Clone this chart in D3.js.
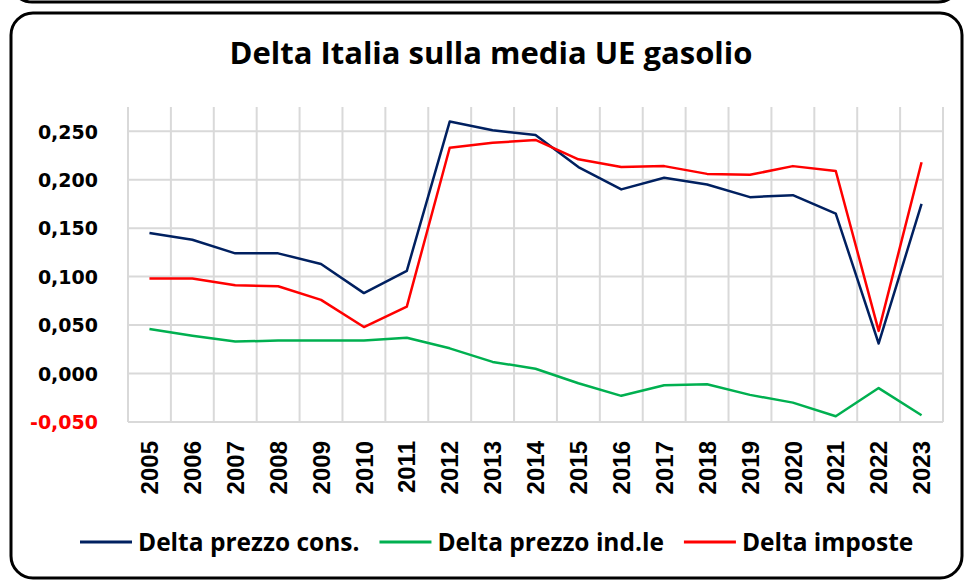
<!DOCTYPE html>
<html>
<head>
<meta charset="utf-8">
<script src="https://cdn.jsdelivr.net/npm/d3@7"></script>
<style>
  body { margin: 0; background: #fff; }
  svg { display: block; }
</style>
</head>
<body>
<div id="graphic"></div>
<script>
// chart data
var years = ["2005","2006","2007","2008","2009","2010","2011","2012","2013","2014",
             "2015","2016","2017","2018","2019","2020","2021","2022","2023"];
var deltaCons = [0.145,0.138,0.124,0.124,0.113,0.083,0.106,0.260,0.251,0.246,
                 0.213,0.190,0.202,0.195,0.182,0.184,0.165,0.031,0.175];
var deltaInd = [0.046,0.039,0.033,0.034,0.034,0.034,0.037,0.026,0.012,0.005,
                -0.010,-0.023,-0.012,-0.011,-0.022,-0.030,-0.044,-0.015,-0.043];
var deltaImp = [0.098,0.098,0.091,0.090,0.076,0.048,0.069,0.233,0.238,0.241,
                0.221,0.213,0.214,0.206,0.205,0.214,0.209,0.044,0.218];
var yTicks = [-0.05, 0, 0.05, 0.10, 0.15, 0.20, 0.25];
var seriesNames = ["Delta prezzo cons.", "Delta prezzo ind.le", "Delta imposte"];
var seriesColors = ["#002060", "#00b050", "#ff0000"];

var W = 965, H = 581;
var margin = { top: 107, right: 22, bottom: 159, left: 128 },
    width = W - margin.left - margin.right,
    height = H - margin.top - margin.bottom;

var svg = d3.select("#graphic").append("svg")
    .attr("width", W)
    .attr("height", H);

// outer frames (bottom of the box above + chart box)
svg.append("rect")
    .attr("x", 10).attr("y", -60)
    .attr("width", 950).attr("height", 62)
    .attr("rx", 22)
    .attr("fill", "none").attr("stroke", "#000").attr("stroke-width", 3);
svg.append("rect")
    .attr("x", 11).attr("y", 13)
    .attr("width", 951).attr("height", 565)
    .attr("rx", 22)
    .attr("fill", "#fff").attr("stroke", "#000").attr("stroke-width", 3);

// title
svg.append("text")
    .attr("x", 491).attr("y", 64)
    .attr("text-anchor", "middle")
    .style("font-family", "'Open Sans', sans-serif")
    .style("font-weight", "bold")
    .style("font-size", "31px")
    .text("Delta Italia sulla media UE gasolio");

var g = svg.append("g")
    .attr("transform", "translate(" + margin.left + "," + margin.top + ")");

// scales
var x = d3.scaleBand().domain(years).range([0, width]).padding(0);
var y = d3.scaleLinear().domain([-0.05, 0.275]).range([height, 0]);

// vertical gridlines on category boundaries
var bounds = years.map(function(d) { return x(d); }).concat([width]);
g.selectAll(null)
    .data(bounds)
    .enter()
    .append("line")
    .attr("x1", function(d) { return d; })
    .attr("x2", function(d) { return d; })
    .attr("y1", 0)
    .attr("y2", height)
    .attr("stroke", "#d9d9d9")
    .attr("stroke-width", 2);

// horizontal gridlines
g.selectAll(null)
    .data(yTicks)
    .enter()
    .append("line")
    .attr("x1", 0)
    .attr("x2", width)
    .attr("y1", function(d) { return y(d); })
    .attr("y2", function(d) { return y(d); })
    .attr("stroke", "#d9d9d9")
    .attr("stroke-width", 2);

// y axis labels
var fmt = function(d) { return d3.format(".3f")(d).replace(".", ",").replace("−", "-"); };
var yAxis = g.append("g")
    .attr("transform", "translate(-30,0)")
    .call(d3.axisLeft(y).tickValues(yTicks).tickFormat(fmt).tickSize(0));
yAxis.select(".domain").remove();
yAxis.selectAll("text")
    .attr("x", 0)
    .attr("dy", "0.36em")
    .style("font-family", "'DejaVu Sans', sans-serif")
    .style("font-weight", "bold")
    .style("font-size", "19px")
    .attr("fill", function(d) { return d < 0 ? "#ff0000" : "#000"; });

// x axis labels (rotated)
var xAxis = g.append("g")
    .attr("transform", "translate(0," + height + ")")
    .call(d3.axisBottom(x).tickSize(0));
xAxis.select(".domain").remove();
xAxis.selectAll("text")
    .attr("transform", "rotate(-90)")
    .attr("x", -19)
    .attr("y", 0)
    .attr("dy", "0.36em")
    .attr("text-anchor", "end")
    .style("font-family", "'Liberation Sans', Arial, sans-serif")
    .style("font-weight", "bold")
    .style("font-size", "24px")
    .attr("fill", "#000");

// lines
var allSeries = [deltaCons, deltaInd, deltaImp];
var line = d3.line()
    .x(function(d, i) { return x(years[i]) + x.bandwidth() / 2; })
    .y(function(d) { return y(d); });
// draw order: green, blue, red (red on top)
[1, 0, 2].forEach(function(k) {
    g.append("path")
        .datum(allSeries[k])
        .attr("fill", "none")
        .attr("stroke", seriesColors[k])
        .attr("stroke-width", 2.5)
        .attr("stroke-linejoin", "round")
        .attr("d", line);
});

// legend
var legend = svg.append("g").attr("transform", "translate(0,542)");
var lx = 80;
seriesNames.forEach(function(name, k) {
    legend.append("line")
        .attr("x1", lx).attr("x2", lx + 52)
        .attr("y1", 0).attr("y2", 0)
        .attr("stroke", seriesColors[k])
        .attr("stroke-width", 3);
    var t = legend.append("text")
        .attr("x", lx + 58)
        .attr("y", 0)
        .attr("dy", "0.36em")
        .style("font-family", "'Open Sans', sans-serif")
        .style("font-weight", "bold")
        .style("font-size", "24.5px")
        .text(name);
    lx = lx + 58 + t.node().getComputedTextLength() + 20;
});
</script>
</body>
</html>
